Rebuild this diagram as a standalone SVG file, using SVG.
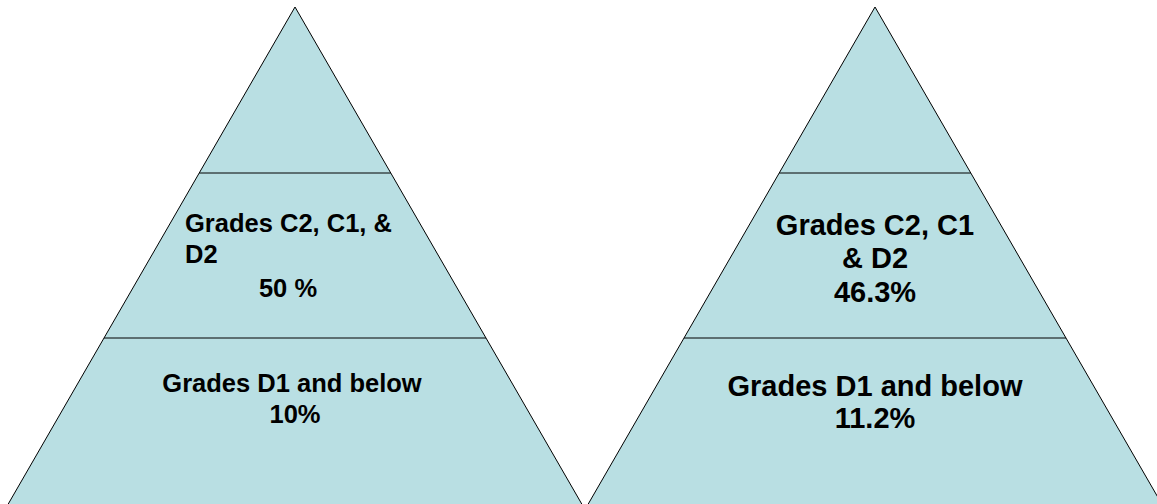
<svg xmlns="http://www.w3.org/2000/svg" width="1157" height="504" viewBox="0 0 1157 504">
<style>
.tri{fill:#B9DFE3;stroke:#000;stroke-width:1}
.sep{stroke:#000;stroke-width:1}
.t{font-family:"Liberation Sans",Arial,sans-serif;font-weight:bold;fill:#000}
.l{font-size:25.5px}
.r{font-size:29px}
.c{text-anchor:middle}
</style>
<rect width="1157" height="504" fill="#fff"/>
<g id="left-pyramid">
<polygon class="tri" points="295,7 591,520 -1,520"/>
<line class="sep" x1="199.2" y1="173" x2="390.8" y2="173"/>
<line class="sep" x1="104" y1="338" x2="486" y2="338"/>
<text class="t l" x="185" y="232">Grades C2, C1, &amp;</text>
<text class="t l" x="185" y="263">D2</text>
<text class="t l c" x="288" y="297">50 %</text>
<text class="t l c" x="292" y="392">Grades D1 and below</text>
<text class="t l c" x="295" y="423">10%</text>
</g>
<g id="right-pyramid">
<polygon class="tri" points="875,7 1171,520 579,520"/>
<line class="sep" x1="779.2" y1="173" x2="970.8" y2="173"/>
<line class="sep" x1="684" y1="338" x2="1066" y2="338"/>
<text class="t r c" x="875" y="235">Grades C2, C1</text>
<text class="t r c" x="875" y="268">&amp; D2</text>
<text class="t r c" x="875" y="302">46.3%</text>
<text class="t r c" x="875" y="396">Grades D1 and below</text>
<text class="t r c" x="875" y="428">11.2%</text>
</g>
<g id="connectors"/>
</svg>
